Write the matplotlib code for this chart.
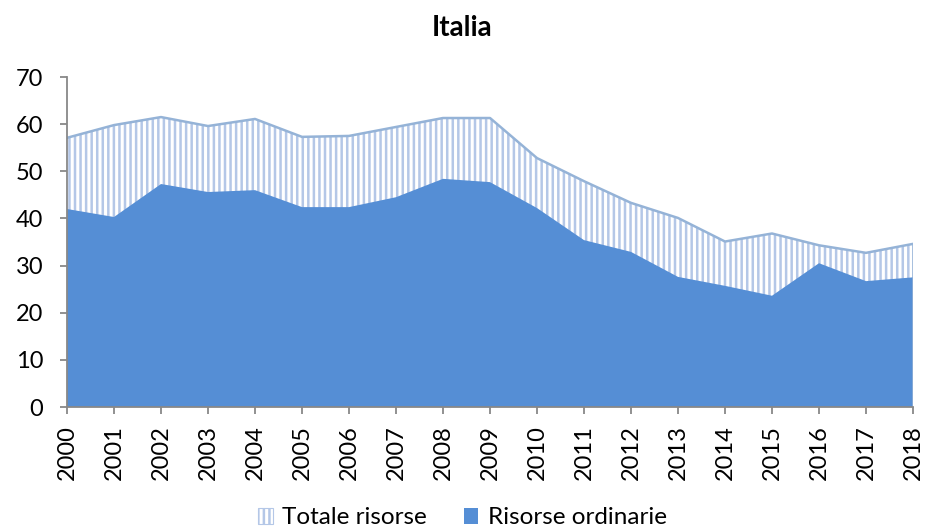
import matplotlib
matplotlib.use("Agg")
import matplotlib.pyplot as plt
from matplotlib.patches import Patch

plt.rcParams['font.family'] = ['Lato', 'DejaVu Sans']
plt.rcParams['hatch.linewidth'] = 1.8

years = [2000, 2001, 2002, 2003, 2004, 2005, 2006, 2007, 2008, 2009,
         2010, 2011, 2012, 2013, 2014, 2015, 2016, 2017, 2018]
totale = [57.1, 59.8, 61.5, 59.6, 61.1, 57.3, 57.5, 59.4, 61.3, 61.3,
          52.8, 47.9, 43.3, 40.1, 35.1, 36.8, 34.3, 32.7, 34.6]
ordinarie = [42.0, 40.3, 47.3, 45.6, 46.0, 42.4, 42.4, 44.5, 48.4, 47.7,
             42.2, 35.4, 32.9, 27.6, 25.7, 23.6, 30.5, 26.7, 27.5]
labels = ["Totale risorse", "Risorse ordinarie"]

hatch_col = "#B4C7E7"
line_col = "#95B3D7"
solid_col = "#558ED5"

fig = plt.figure(figsize=(9.25, 5.31), dpi=100)
ax = fig.add_axes([67/925, 1-407/531, (913-67)/925, (407-77)/531])

ax.fill_between(years, 0, totale, facecolor="white", edgecolor=hatch_col,
                hatch="|||", linewidth=0)
ax.plot(years, totale, color=line_col, lw=1.8, solid_joinstyle="round")
ax.plot([years[-1], years[-1]], [0, totale[-1]], color=line_col, lw=1.8)
ax.fill_between(years, 0, ordinarie, facecolor=solid_col, edgecolor="none", linewidth=0)

ax.set_xlim(years[0], years[-1])
ax.set_ylim(0, 70)
ax.set_yticks(range(0, 71, 10))
ax.set_xticks(years)
ax.set_xticklabels([str(y) for y in years], rotation=90)
for s in ["top", "right"]:
    ax.spines[s].set_visible(False)
for s in ["left", "bottom"]:
    ax.spines[s].set_color("#888888")
    ax.spines[s].set_linewidth(1.3)
ax.tick_params(axis="both", colors="#888888", labelcolor="black", labelsize=17,
               length=5, width=1.3, direction="out")
ax.tick_params(axis="y", pad=12)
ax.tick_params(axis="x", pad=8)

fig.text(0.5, 1-28/531, "Italia", ha="center", va="center", fontsize=20, fontweight="bold")

handles = [Patch(facecolor="white", edgecolor=hatch_col, hatch="|||", linewidth=0.8),
           Patch(facecolor=solid_col, edgecolor="none")]
fig.legend(handles, labels, loc="center", bbox_to_anchor=(0.5, 1-518/531), ncol=2,
           frameon=False, fontsize=17.5, handlelength=0.6, handleheight=0.6,
           handletextpad=0.4, columnspacing=1.5)

fig.savefig("out.png", dpi=100)
